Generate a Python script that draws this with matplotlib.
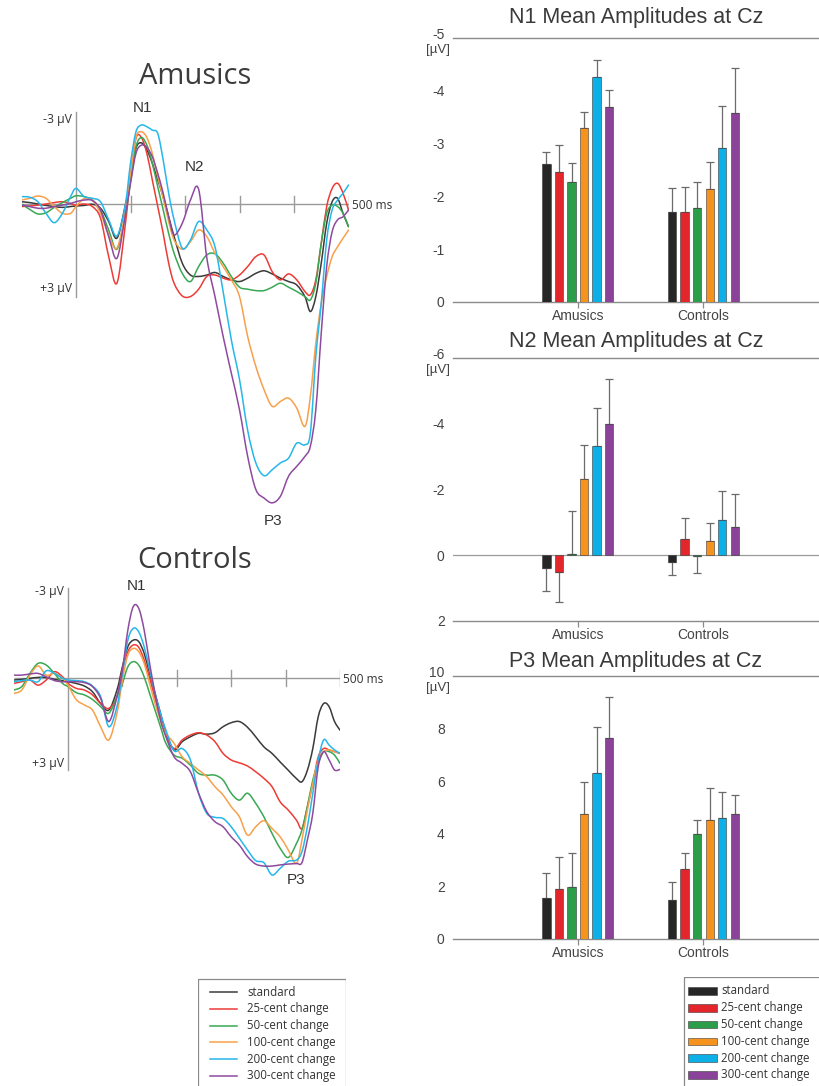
import matplotlib
matplotlib.use('Agg')
import matplotlib.pyplot as plt
import matplotlib.transforms as mtrans
from matplotlib.patches import Rectangle, PathPatch
from matplotlib.lines import Line2D
from matplotlib.path import Path

# ---------------- data ----------------
conditions = ["standard", "25-cent change", "50-cent change",
              "100-cent change", "200-cent change", "300-cent change"]
groups = ["Amusics", "Controls"]

# ERP time grid (ms)
times = [-100, -85, -70, -55, -40, -25, -10, 0, 15, 30, 45, 60, 75, 90,
         100, 110, 120, 130, 140, 150, 160, 170, 180, 195, 210, 225, 240,
         255, 270, 285, 300, 315, 330, 345, 360, 375, 390, 405, 420, 430,
         440, 450, 460, 470, 480, 490, 500]

# Amusics ERPs at Cz (µV, negative up)
amu_standard = [-0.08, -0.05, 0, 0.05, 0.09, 0.12, 0.09, 0.07, 0.05, 0.01, 0.15, 0.62, 1.21, 0.09,
                -0.85, -1.96, -2.16, -1.91, -1.44, -0.85, -0.26, 0.45, 1.15, 2.09, 2.51, 2.56, 2.51,
                2.42, 2.56, 2.68, 2.74, 2.62, 2.45, 2.36, 2.47, 2.62, 2.74, 2.86, 3.27, 3.8,
                3.27, 2.09, 0.68, -0.08, -0.2, 0.33, 0.8]
amu_25 = [0.09, 0.07, 0.04, 0, -0.05, -0.08, -0.02, 0.04, 0, 0.09, 0.5, 1.86, 2.8, 0.8,
          -0.96, -2.32, -2.35, -1.79, -0.85, 0.09, 1.04, 2.09, 2.8, 3.25, 3.27, 3.01, 2.56,
          2.51, 2.62, 2.68, 2.51, 2.21, 1.86, 1.8, 2.39, 2.68, 2.47, 2.68, 3.09, 3.21,
          2.68, 1.39, 0.09, -0.55, -0.73, -0.38, 0.21]
amu_50 = [0, 0.19, 0.35, 0.31, 0.12, -0.05, -0.2, -0.29, -0.26, -0.14, 0.21, 0.92, 1.6, 0.45,
          -0.79, -2.02, -2.35, -2.08, -1.44, -0.61, 0.21, 1.04, 1.74, 2.45, 2.74, 2.21, 1.8,
          1.76, 2.09, 2.56, 2.94, 3.01, 3.06, 3.06, 2.94, 2.8, 2.94, 3.09, 3.27, 3.39,
          2.8, 1.39, 0.33, 0.04, 0.09, 0.33, 0.8]
amu_100 = [-0.14, -0.2, -0.28, -0.2, 0.09, 0.33, 0.33, 0.09, -0.19, -0.14, 0.33, 1.09, 1.56, 0.33,
           -1.08, -2.35, -2.55, -2.35, -1.79, -0.96, -0.2, 0.62, 1.27, 1.6, 1.33, 0.92, 1.15,
           1.74, 2.21, 2.68, 3.27, 4.68, 5.74, 6.56, 7.15, 6.98, 6.86, 7.21, 7.86, 6.8,
           4.92, 3.51, 2.56, 1.86, 1.51, 1.21, 0.92]
amu_200 = [-0.26, -0.24, -0.08, 0.33, 0.66, 0.33, -0.26, -0.55, -0.26, -0.2, -0.08, 0.56, 1.13, 0.09,
           -1.44, -2.55, -2.79, -2.73, -2.61, -2.49, -1.55, -0.38, 0.56, 1.56, 1.27, 0.62, 0.92,
           1.51, 3.1, 4.8, 6.2, 8.0, 9.15, 9.6, 9.39, 9.15, 8.98, 8.45, 8.51, 8.09,
           5.39, 3.51, 1.27, 0.21, -0.14, -0.38, -0.67]
amu_300 = [0.04, 0.09, 0.15, 0.15, 0.09, 0.04, -0.02, -0.08, -0.14, -0.12, 0.21, 1.15, 1.92, 0.45,
           -0.73, -1.79, -2.08, -2.0, -1.67, -1.08, -0.38, 0.45, 1.09, 0.68, -0.14, -0.52, 1.9,
           3.27, 4.68, 5.98, 7.27, 8.92, 10.09, 10.39, 10.56, 10.33, 9.62, 9.27, 8.92, 8.56,
           7.27, 4.56, 2.2, 0.98, 0.56, 0.45, 0.21]

# Controls ERPs at Cz (µV, negative up)
con_standard = [0.08, 0.06, 0.02, -0.01, -0.01, 0.06, 0.1, 0.14, 0.2, 0.29, 0.49, 0.9, 1.13, 0.43,
                -0.38, -1.08, -1.31, -1.26, -0.85, -0.15, 0.55, 1.24, 1.94, 2.52, 2.23, 2.06, 1.94,
                1.97, 1.92, 1.71, 1.57, 1.53, 1.73, 2.06, 2.41, 2.64, 2.94, 3.23, 3.52, 3.63,
                3.23, 2.47, 1.36, 0.9, 1.01, 1.53, 1.83]
con_25 = [0.2, 0.14, 0.08, 0.26, 0.08, -0.21, -0.03, 0.2, 0.37, 0.43, 0.6, 0.9, 1.07, 0.66,
          -0.27, -0.91, -1.14, -1.06, -0.62, 0.02, 0.72, 1.42, 2.0, 2.47, 2.17, 2.0, 1.92,
          2.0, 2.23, 2.64, 2.87, 2.97, 3.08, 3.28, 3.51, 3.8, 4.33, 4.62, 4.97, 5.26,
          4.5, 3.69, 2.76, 2.47, 2.52, 2.58, 2.64]
con_50 = [0.43, 0.31, -0.15, -0.5, -0.44, -0.15, 0.2, 0.31, 0.52, 0.6, 0.76, 1.01, 1.24, 0.66,
          0.2, -0.38, -0.56, -0.44, -0.03, 0.55, 1.13, 1.71, 2.29, 2.7, 2.81, 3.05, 3.34,
          3.4, 3.4, 3.57, 4.03, 4.27, 4.03, 4.38, 4.85, 5.43, 5.95, 6.27, 5.78, 5.31,
          4.5, 3.57, 2.99, 2.58, 2.58, 2.7, 2.99]
con_100 = [0.55, 0.43, -0.09, -0.41, -0.09, -0.15, 0.02, 0.26, 0.76, 0.95, 1.13, 1.71, 2.17, 1.24,
           0.08, -0.79, -1.02, -0.91, -0.5, 0.2, 0.9, 1.48, 1.94, 2.29, 2.76, 2.99, 3.22,
           3.45, 3.8, 4.09, 4.5, 4.85, 5.49, 5.2, 4.99, 5.26, 5.55, 6.01, 6.48, 5.66,
           4.62, 3.69, 2.87, 2.58, 2.52, 2.58, 2.64]
con_200 = [0.14, 0.1, 0.08, 0.14, -0.24, -0.15, 0.02, 0.08, 0.1, 0.14, 0.29, 0.66, 1.71, 1.01,
           -0.15, -1.31, -1.72, -1.6, -1.08, -0.27, 0.55, 1.24, 1.83, 2.55, 2.47, 2.87, 4.03,
           4.73, 4.87, 4.91, 5.2, 5.6, 6.01, 6.38, 6.45, 6.88, 6.65, 6.4, 6.36, 6.07,
           5.2, 4.03, 2.87, 2.17, 2.35, 2.52, 2.64]
con_300 = [-0.09, -0.09, -0.13, -0.15, -0.03, 0.1, 0.14, 0.14, 0.14, 0.17, 0.31, 0.72, 1.53, 0.66,
           -0.27, -1.66, -2.48, -2.42, -1.66, -0.5, 0.55, 1.48, 2.06, 2.76, 2.99, 3.28, 4.03,
           4.67, 5.02, 5.2, 5.55, 5.84, 6.24, 6.5, 6.57, 6.57, 6.53, 6.5, 6.48, 6.45,
           5.66, 4.73, 3.1, 2.58, 2.87, 3.22, 3.2]

# Mean amplitudes at Cz (µV) and error bar sizes
n1_amusics = [-2.61, -2.46, -2.28, -3.30, -4.26, -3.70]
n1_amusics_err = [0.24, 0.51, 0.35, 0.30, 0.32, 0.31]
n1_controls = [-1.70, -1.70, -1.77, -2.13, -2.92, -3.58]
n1_controls_err = [0.45, 0.48, 0.50, 0.53, 0.80, 0.86]

n2_amusics = [0.38, 0.50, -0.05, -2.31, -3.33, -4.00]
n2_amusics_err = [0.71, 0.91, 1.30, 1.04, 1.13, 1.34]
n2_controls = [0.21, -0.50, 0.01, -0.44, -1.08, -0.85]
n2_controls_err = [0.38, 0.62, 0.53, 0.54, 0.86, 1.01]

p3_amusics = [1.56, 1.91, 1.99, 4.75, 6.29, 7.62]
p3_amusics_err = [0.96, 1.22, 1.26, 1.22, 1.77, 1.58]
p3_controls = [1.49, 2.67, 4.00, 4.53, 4.61, 4.76]
p3_controls_err = [0.66, 0.61, 0.53, 1.22, 0.98, 0.71]

# ---------------- styling ----------------
line_colors = ["#3a3a3a", "#ee3b35", "#38a853", "#f8a04a", "#25b7ea", "#8e4a9e"]
bar_colors = ["#262626", "#e2262c", "#2c9d48", "#f6921e", "#0cb0e6", "#8a4398"]
AX_GRAY = "#9a9a9a"
TXT = "#333333"
HUM = ["Open Sans", "DejaVu Sans"]
ARI = ["Liberation Sans", "DejaVu Sans"]

W, H = 819, 1086
fig = plt.figure(figsize=(W / 100, H / 100), dpi=100)
fig.patch.set_facecolor("white")


def px_axes(x0, y0, x1, y1):
    return fig.add_axes([x0 / W, 1 - y1 / H, (x1 - x0) / W, (y1 - y0) / H])


def smooth_path(xs, ys):
    """Smooth curve drawn through every sample (Catmull-Rom as cubic Bezier)."""
    n = len(xs)
    verts = [(xs[0], ys[0])]
    codes = [Path.MOVETO]
    for i in range(n - 1):
        a = max(i - 1, 0)
        d = min(i + 2, n - 1)
        c1 = (xs[i] + (xs[i + 1] - xs[a]) / 6.0, ys[i] + (ys[i + 1] - ys[a]) / 6.0)
        c2 = (xs[i + 1] - (xs[d] - xs[i]) / 6.0, ys[i + 1] - (ys[d] - ys[i]) / 6.0)
        verts += [c1, c2, (xs[i + 1], ys[i + 1])]
        codes += [Path.CURVE4] * 3
    return Path(verts, codes)


def erp_panel(x0, x1, y0, y1, vlim, series, title, title_y, vtop, vbot, peaks):
    ax = px_axes(x0, y0, x1, y1)
    ax.set_xlim(-100, 500)
    ax.set_ylim(vlim[1], vlim[0])  # negative up
    ax.axis("off")
    ax.plot([-100, 500], [0, 0], color=AX_GRAY, lw=1.0, zorder=1, solid_capstyle="butt")
    ax.plot([0, 0], [vtop, vbot], color=AX_GRAY, lw=1.0, zorder=1)
    for t in [100, 200, 300, 400, 500]:
        ax.plot([t, t], [-0.28, 0.28], color=AX_GRAY, lw=1.0, zorder=1)
    ax.text(-8, -3.0, "-3 \u00b5V", ha="right", va="center", fontsize=8.8,
            family=HUM, color=TXT)
    ax.text(-8, 3.0, "+3 \u00b5V", ha="right", va="center", fontsize=8.8,
            family=HUM, color=TXT)
    ax.text(506, 0.05, "500 ms", ha="left", va="center", fontsize=8.6,
            family=HUM, color=TXT, clip_on=False)
    for vals, c in zip(series, line_colors):
        ax.add_patch(PathPatch(smooth_path(times, vals), fill=False, edgecolor=c,
                               lw=1.1, zorder=3, joinstyle="round", capstyle="round"))
    for lab, (tx, vy) in peaks.items():
        ax.text(tx, vy, lab, ha="center", va="center", fontsize=11, family=ARI,
                color=TXT, clip_on=False)
    fig.text(195 / W, 1 - title_y / H, title, ha="center", va="center",
             fontsize=21, family=HUM, color="#3c3c3c")
    return ax


amu_series = [amu_standard, amu_25, amu_50, amu_100, amu_200, amu_300]
con_series = [con_standard, con_25, con_50, con_100, con_200, con_300]

# Amusics: baseline at y=204 px, 28.3 px/µV; 0 ms at x=76
erp_panel(21.5, 348.5, 204 - 3.6 * 28.3, 204 + 11.0 * 28.3, (-3.6, 11.0), amu_series,
          "Amusics", 76, -3.25, 3.3,
          {"N1": (122, -3.4), "N2": (218, -1.3), "P3": (362, 11.2)})
# Controls: baseline at y=677.7 px, 28.67 px/µV; 0 ms at x=68
erp_panel(13.6, 340.0, 677.7 - 3.4 * 28.67, 677.7 + 7.5 * 28.67, (-3.4, 7.5), con_series,
          "Controls", 560, -3.12, 3.22,
          {"N1": (125, -3.2), "P3": (420, 7.05)})


# ---------------- bar charts ----------------
def bar_panel(y0, y1, ylim, ticks, tick_labels, amu, amu_err, con, con_err, title, title_y):
    ax = px_axes(453, y0, 819, y1)
    ax.set_xlim(-0.994, 1.92)
    ax.set_ylim(*ylim)
    pitch = 0.1
    width = 0.067
    for gi, (vals, errs) in enumerate([(amu, amu_err), (con, con_err)]):
        for i, (v, e, c) in enumerate(zip(vals, errs, bar_colors)):
            x = gi + (i - 2.5) * pitch
            ax.bar(x, v, width=width, color=c, edgecolor="#3a3a3a", linewidth=0.4, zorder=3)
            lo, hi = (0, e) if v >= 0 else (e, 0)
            ax.errorbar(x, v, yerr=[[lo], [hi]], fmt="none", ecolor="#6a6a6a",
                        elinewidth=0.9, capsize=2.6, capthick=0.9, zorder=2)
    for s in ["left", "right"]:
        ax.spines[s].set_visible(False)
    for s in ["top", "bottom"]:
        ax.spines[s].set_color("#8a8a8a")
        ax.spines[s].set_linewidth(1.0)
    if 0 not in (ylim[0], ylim[1]):
        ax.axhline(0, color="#9a9a9a", lw=0.9, zorder=1)
    ax.set_yticks(ticks)
    # top tick label sits just above its line, with the unit below it
    ax.set_yticklabels(tick_labels[:-1] + [""], family=ARI, fontsize=10, color="#444444")
    ax.tick_params(axis="y", length=0, pad=6)
    top_tr = mtrans.offset_copy(ax.get_yaxis_transform(), fig=fig, x=-6, y=2.2,
                                units="points")
    ax.text(0, ticks[-1], tick_labels[-1], transform=top_tr, ha="right", va="center",
            family=ARI, fontsize=10, color="#444444")
    ax.text(-0.008, 0.9545, "[\u00b5V]", transform=ax.transAxes, ha="right", va="center",
            family=ARI, fontsize=9.5, color="#444444")
    ax.set_xticks([0, 1])
    ax.set_xticklabels(groups, family=ARI, fontsize=10, color="#444444")
    ax.tick_params(axis="x", length=4, width=0.9, color="#8a8a8a", direction="out", pad=1)
    fig.text(636 / W, 1 - title_y / H, title, ha="center", va="center",
             fontsize=15.5, family=ARI, color="#3a3a3a")
    return ax


bar_panel(38.3, 301.7, (0, -5), [0, -1, -2, -3, -4, -5], ["0", "-1", "-2", "-3", "-4", "-5"],
          n1_amusics, n1_amusics_err, n1_controls, n1_controls_err,
          "N1 Mean Amplitudes at Cz", 18)
bar_panel(357.7, 621.0, (2, -6), [2, 0, -2, -4, -6], ["2", "0", "-2", "-4", "-6"],
          n2_amusics, n2_amusics_err, n2_controls, n2_controls_err,
          "N2 Mean Amplitudes at Cz", 342)
bar_panel(675.7, 939.0, (0, 10), [0, 2, 4, 6, 8, 10], ["0", "2", "4", "6", "8", "10"],
          p3_amusics, p3_amusics_err, p3_controls, p3_controls_err,
          "P3 Mean Amplitudes at Cz", 662)

# ---------------- legends ----------------
lg = px_axes(198, 978, 346, 1086)
lg.set_xlim(198, 346)
lg.set_ylim(1086, 978)
lg.axis("off")
lg.add_patch(Rectangle((198.5, 978.5), 147, 120, fill=False, ec="#8a8a8a", lw=0.9,
                       clip_on=True))
for i, (lab, c) in enumerate(zip(conditions, line_colors)):
    y = 992 + i * 16.8
    lg.add_line(Line2D([210, 237], [y, y], color=c, lw=1.1))
    lg.text(247, y, lab, ha="left", va="center", fontsize=8.3, family=HUM, color=TXT)

bl = px_axes(683, 977, 819, 1086)
bl.set_xlim(683, 819)
bl.set_ylim(1086, 977)
bl.axis("off")
bl.add_patch(Rectangle((683.5, 977.5), 150, 120, fill=False, ec="#8a8a8a", lw=0.9,
                       clip_on=True))
for i, (lab, c) in enumerate(zip(conditions, bar_colors)):
    y = 991 + i * 16.8
    bl.add_patch(Rectangle((688, y - 3.8), 29, 7.6, fc=c, ec="#3a3a3a", lw=0.4))
    bl.text(721, y, lab, ha="left", va="center", fontsize=8.3, family=HUM, color=TXT)

fig.savefig("out.png", dpi=100, facecolor="white")
